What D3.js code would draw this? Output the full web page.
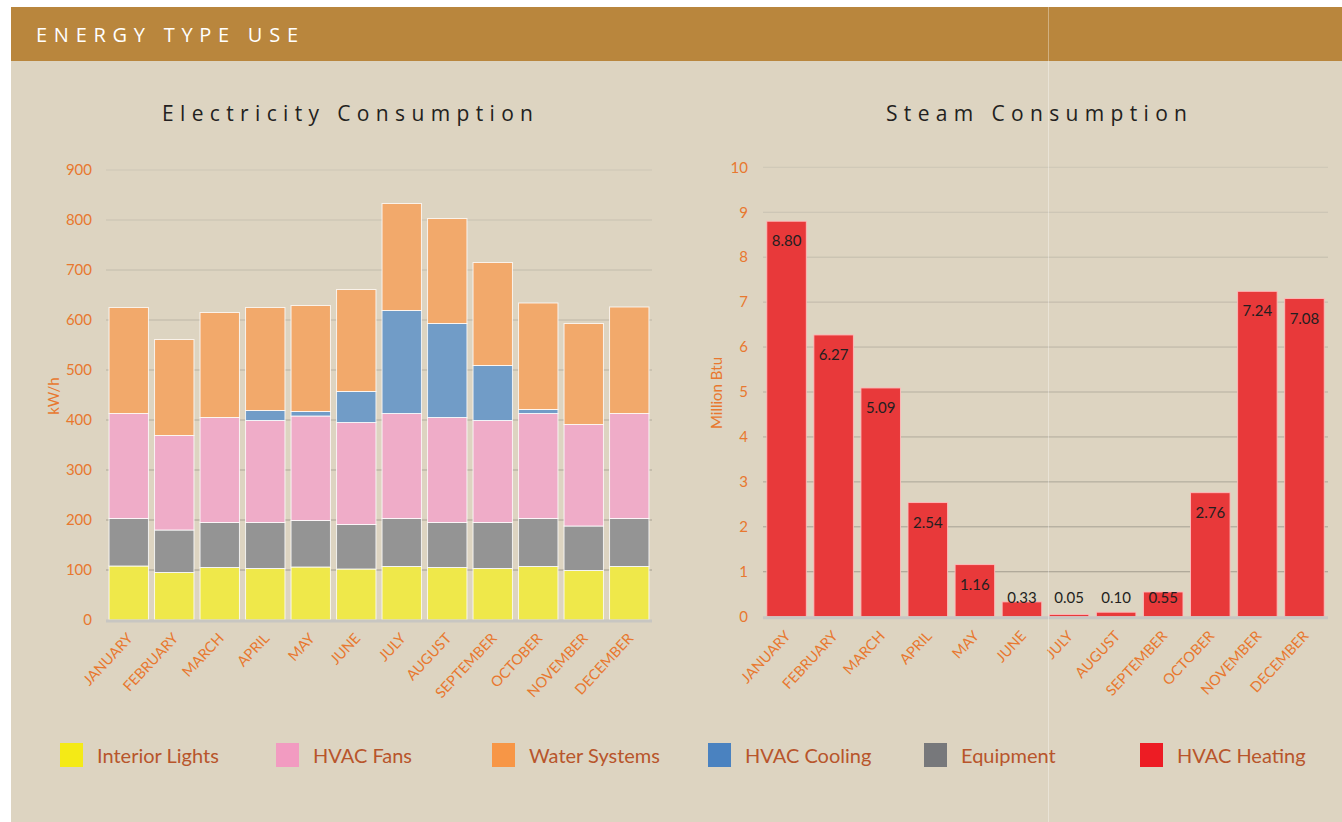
<!DOCTYPE html>
<html>
<head>
<meta charset="utf-8">
<script src="https://cdn.jsdelivr.net/npm/d3@7"></script>
<style>
  html, body { margin: 0; padding: 0; background: #ffffff; }
  svg { display: block; }
</style>
</head>
<body>
<svg id="chart" width="1342" height="822"></svg>
<script>
// ---------------- DATA ----------------
const months = ["JANUARY","FEBRUARY","MARCH","APRIL","MAY","JUNE","JULY","AUGUST","SEPTEMBER","OCTOBER","NOVEMBER","DECEMBER"];
const interiorLights = [108, 95, 105, 103, 106, 102, 107, 105, 103, 107, 99, 107];
const equipment      = [ 95, 85,  90,  92,  93,  89,  96,  90,  92,  96, 89,  96];
const hvacFans       = [210,189, 210, 204, 209, 204, 210, 210, 204, 210,203, 210];
const hvacCooling    = [  0,  0,   0,  20,   9,  62, 206, 188, 110,   8,  0,   0];
const waterSystems   = [212,192, 210, 206, 212, 204, 214, 210, 206, 213,202, 213];
const steamHeating   = [8.80, 6.27, 5.09, 2.54, 1.16, 0.33, 0.05, 0.10, 0.55, 2.76, 7.24, 7.08];
const elecTicks  = [0,100,200,300,400,500,600,700,800,900];
const steamTicks = [0,1,2,3,4,5,6,7,8,9,10];
const legendNames = ["Interior Lights","HVAC Fans","Water Systems","HVAC Cooling","Equipment","HVAC Heating"];

// ---------------- STYLE ----------------
const barColors = {lights:"#EFE84A", equipment:"#949494", fans:"#EFACC8", cooling:"#719CC7", water:"#F2A96B", heating:"#E8393A"};
const legendColors = ["#F4EA16","#F29BC1","#F79646","#4A82C0","#77787B","#ED1C24"];
const axisColor = "#E8782F";
const legendTextColor = "#B8552B";
const fontMain = "Lato, 'Open Sans', sans-serif";
const fontTitle = "'Open Sans', Lato, sans-serif";

const svg = d3.select("#chart");

// background panel + header
svg.append("rect").attr("x",11).attr("y",7).attr("width",1331).attr("height",815).attr("fill","#DDD4C1");
svg.append("rect").attr("x",11).attr("y",7).attr("width",1331).attr("height",54).attr("fill","#B9863D");
svg.append("text").attr("x",36).attr("y",42)
  .attr("font-family",fontTitle).attr("font-size",20).attr("fill","#ffffff")
  .attr("textLength",262).attr("lengthAdjust","spacing")
  .text("ENERGY TYPE USE");

// ---------------- ELECTRICITY ----------------
const ex = d3.scaleBand().domain(months).range([106,652]).paddingInner(0.134).paddingOuter(0.067);
const ey = d3.scaleLinear().domain([0,900]).range([620,170]);
const gridCol = d3.scaleLinear().domain([0,900]).range(["#9d978a","#cdc6b6"]);

const eg = svg.append("g");
eg.selectAll("line.grid").data(elecTicks.filter(d=>d>0)).join("line")
  .attr("x1",106).attr("x2",652).attr("y1",d=>ey(d)).attr("y2",d=>ey(d))
  .attr("stroke",d=>gridCol(d)).attr("stroke-width",1);

const yAxisE = d3.axisLeft(ey).tickValues(elecTicks).tickSize(0).tickPadding(0);
const eyAxis = eg.append("g").attr("transform","translate(92,0)").call(yAxisE);
eyAxis.select(".domain").remove();
eyAxis.selectAll("text").attr("font-family",fontMain).attr("font-size",15).attr("fill",axisColor);

const keys = ["lights","equipment","fans","cooling","water"];
const rows = months.map((m,i)=>({month:m, lights:interiorLights[i], equipment:equipment[i], fans:hvacFans[i], cooling:hvacCooling[i], water:waterSystems[i]}));
const stacked = d3.stack().keys(keys)(rows);

eg.selectAll("g.layer").data(stacked).join("g").attr("fill",d=>barColors[d.key])
  .selectAll("rect").data(d=>d.filter(s=>s[1]-s[0]>0)).join("rect")
  .attr("x",d=>ex(d.data.month)).attr("width",ex.bandwidth())
  .attr("y",d=>ey(d[1])).attr("height",d=>ey(d[0])-ey(d[1]))
  .attr("stroke","rgba(255,255,255,0.8)").attr("stroke-width",1);

eg.append("line").attr("x1",106).attr("x2",652).attr("y1",621).attr("y2",621)
  .attr("stroke","#c8c6c2").attr("stroke-width",3);

const xAxisE = d3.axisBottom(ex).tickSize(0).tickPadding(0);
const exAxis = eg.append("g").attr("transform","translate(0,620)").call(xAxisE);
exAxis.select(".domain").remove();
exAxis.selectAll("text")
  .attr("font-family",fontMain).attr("font-size",14.5).attr("fill",axisColor)
  .attr("text-anchor","end").attr("dy",0).attr("y",0)
  .attr("transform","translate(5,19) rotate(-47)");

eg.append("text").attr("transform","translate(59,396) rotate(-90)")
  .attr("text-anchor","middle").attr("font-family",fontMain).attr("font-size",15).attr("fill",axisColor)
  .text("kW/h");

svg.append("text").attr("x",162).attr("y",121)
  .attr("font-family",fontTitle).attr("font-size",21).attr("fill","#231F20")
  .attr("textLength",371).attr("lengthAdjust","spacing")
  .text("Electricity Consumption");

// ---------------- STEAM ----------------
const sx = d3.scaleBand().domain(months).range([763,1328]).paddingInner(0.16).paddingOuter(0.08);
const sy = d3.scaleLinear().domain([0,10]).range([616.7,167.3]);
const gridCol2 = d3.scaleLinear().domain([0,10]).range(["#9d978a","#cdc6b6"]);

const sg = svg.append("g");
sg.selectAll("line.grid").data(steamTicks.filter(d=>d>0)).join("line")
  .attr("x1",763).attr("x2",1328).attr("y1",d=>sy(d)).attr("y2",d=>sy(d))
  .attr("stroke",d=>gridCol2(d)).attr("stroke-width",1);

const yAxisS = d3.axisLeft(sy).tickValues(steamTicks).tickSize(0).tickPadding(0).tickFormat(d3.format("d"));
const syAxis = sg.append("g").attr("transform","translate(748,0)").call(yAxisS);
syAxis.select(".domain").remove();
syAxis.selectAll("text").attr("font-family",fontMain).attr("font-size",15).attr("fill",axisColor);

sg.selectAll("rect.bar").data(steamHeating).join("rect")
  .attr("x",(d,i)=>sx(months[i])).attr("width",sx.bandwidth())
  .attr("y",d=>sy(d)).attr("height",d=>sy(0)-sy(d))
  .attr("fill",barColors.heating).attr("stroke","rgba(255,190,190,0.9)").attr("stroke-width",1);

sg.append("line").attr("x1",763).attr("x2",1328).attr("y1",617.7).attr("y2",617.7)
  .attr("stroke","#c8c6c2").attr("stroke-width",3);

sg.selectAll("text.val").data(steamHeating).join("text")
  .attr("x",(d,i)=>sx(months[i])+sx.bandwidth()/2)
  .attr("y",d=>Math.min(sy(d)+25, sy(0)-14))
  .attr("text-anchor","middle").attr("font-family",fontMain).attr("font-size",15).attr("fill","#231F20")
  .text(d=>d3.format(".2f")(d));

const xAxisS = d3.axisBottom(sx).tickSize(0).tickPadding(0);
const sxAxis = sg.append("g").attr("transform","translate(0,616.7)").call(xAxisS);
sxAxis.select(".domain").remove();
sxAxis.selectAll("text")
  .attr("font-family",fontMain).attr("font-size",14.5).attr("fill",axisColor)
  .attr("text-anchor","end").attr("dy",0).attr("y",0)
  .attr("transform","translate(5,20) rotate(-47)");

sg.append("text").attr("transform","translate(722,393) rotate(-90)")
  .attr("text-anchor","middle").attr("font-family",fontMain).attr("font-size",15).attr("fill",axisColor)
  .text("Million Btu");

svg.append("text").attr("x",886).attr("y",121)
  .attr("font-family",fontTitle).attr("font-size",21).attr("fill","#231F20")
  .attr("textLength",301).attr("lengthAdjust","spacing")
  .text("Steam Consumption");

// ---------------- LEGEND ----------------
const lg = svg.append("g");
const lx = d3.scaleLinear().domain([0,1]).range([60,276]);
const items = lg.selectAll("g").data(legendNames).join("g")
  .attr("transform",(d,i)=>`translate(${lx(i)},743)`);
items.append("rect").attr("width",23).attr("height",24).attr("fill",(d,i)=>legendColors[i]);
items.append("text").attr("x",37).attr("y",20)
  .attr("font-family",fontMain).attr("font-size",20).attr("fill",legendTextColor)
  .text(d=>d);

// faint vertical seam
svg.append("line").attr("x1",1048.5).attr("x2",1048.5).attr("y1",7).attr("y2",822)
  .attr("stroke","rgba(255,255,255,0.35)").attr("stroke-width",1);
</script>
</body>
</html>
